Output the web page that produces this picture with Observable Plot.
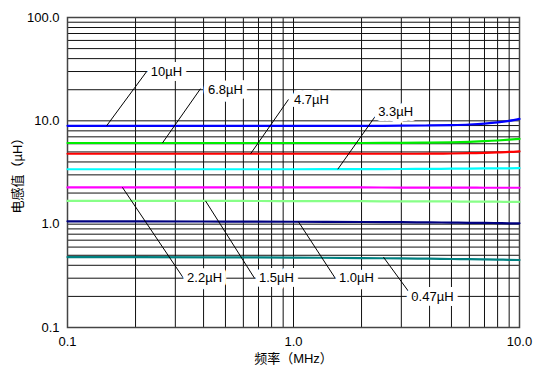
<!DOCTYPE html>
<html>
<head>
<meta charset="utf-8">
<script src="https://cdn.jsdelivr.net/npm/d3@7"></script>
<script src="https://cdn.jsdelivr.net/npm/@observablehq/plot@0.6"></script>
<style>
  html, body { margin: 0; padding: 0; background: #fff; }
</style>
</head>
<body>
<div id="chart"></div>
<script>
// Frequency points (MHz)
const freqs = [0.1, 0.2, 0.5, 1, 2, 3, 4, 5, 6, 7, 8, 9, 10];

// Inductance series (µH) at each frequency
const s10   = [8.95, 8.95, 8.95, 8.95, 8.95, 8.97, 9.02, 9.1, 9.22, 9.4, 9.65, 10.0, 10.45];
const s6_8  = [6.1, 6.1, 6.1, 6.1, 6.1, 6.12, 6.15, 6.2, 6.27, 6.35, 6.45, 6.57, 6.7];
const s4_7  = [4.8, 4.8, 4.8, 4.8, 4.8, 4.8, 4.81, 4.83, 4.86, 4.9, 4.95, 5.0, 5.07];
const s3_3  = [3.4, 3.4, 3.4, 3.4, 3.41, 3.42, 3.43, 3.44, 3.45, 3.46, 3.47, 3.47, 3.48];
const s2_2  = [2.27, 2.27, 2.27, 2.27, 2.27, 2.26, 2.26, 2.26, 2.26, 2.25, 2.25, 2.25, 2.25];
const s1_5  = [1.68, 1.68, 1.68, 1.67, 1.67, 1.66, 1.66, 1.66, 1.65, 1.65, 1.65, 1.64, 1.64];
const s1_0  = [1.065, 1.065, 1.06, 1.055, 1.05, 1.045, 1.04, 1.035, 1.03, 1.03, 1.025, 1.02, 1.02];
const s0_47 = [0.48, 0.48, 0.478, 0.475, 0.47, 0.466, 0.463, 0.46, 0.458, 0.456, 0.454, 0.452, 0.45];

const seriesNames  = ["10µH", "6.8µH", "4.7µH", "3.3µH", "2.2µH", "1.5µH", "1.0µH", "0.47µH"];
const seriesValues = [s10, s6_8, s4_7, s3_3, s2_2, s1_5, s1_0, s0_47];
const seriesColors = ["#0000ff", "#00ee00", "#ff0000", "#00ffff", "#ff00ff", "#88ff88", "#000080", "#008080"];

// Axis ticks and grid
const xTicks = [0.1, 1, 10];
const yTicks = [0.1, 1, 10, 100];
const xGrid = [0.2, 0.3, 0.4, 0.5, 0.6, 0.7, 0.8, 0.9, 1, 2, 3, 4, 5, 6, 7, 8, 9];
const yGrid = [0.2, 0.3, 0.4, 0.5, 0.6, 0.7, 0.8, 0.9, 1, 2, 3, 4, 5, 6, 7, 8, 9,
               10, 20, 30, 40, 50, 60, 70, 80, 90];

// Annotation labels (data coordinates) and leader lines
const labelText = ["10µH", "6.8µH", "4.7µH", "3.3µH", "2.2µH", "1.5µH", "1.0µH", "0.47µH"];
const labelX    = [0.274, 0.50, 1.2, 2.83, 0.404, 0.84, 1.9, 4.12];
const labelY    = [30, 20, 15.8, 12.1, 0.3, 0.3, 0.3, 0.2];
const leadX1    = [0.224, 0.388, 0.95, 2.33, 0.175, 0.408, 1.05, 2.5];
const leadY1    = [30, 20.5, 16.1, 11.5, 2.27, 1.68, 1.06, 0.48];
const leadX2    = [0.149, 0.263, 0.646, 1.57, 0.326, 0.672, 1.53, 3.26];
const leadY2    = [8.95, 6.1, 4.8, 3.4, 0.3, 0.3, 0.3, 0.217];

const curveData = [];
seriesNames.forEach((name, i) => {
  freqs.forEach((f, j) => curveData.push({series: name, f, L: seriesValues[i][j]}));
});
const labels = labelText.map((t, i) => ({t, x: labelX[i], y: labelY[i]}));
const leaders = labelText.map((t, i) => ({x1: leadX1[i], y1: leadY1[i], x2: leadX2[i], y2: leadY2[i]}));

const chart = Plot.plot({
  width: 536,
  height: 369,
  marginLeft: 67,
  marginRight: 17,
  marginTop: 17,
  marginBottom: 42,
  style: {fontFamily: "'Liberation Sans', Arial, 'Noto Sans CJK SC', sans-serif", fontSize: "13px", background: "#fff", color: "#000"},
  x: {type: "log", domain: [0.1, 10]},
  y: {type: "log", domain: [0.1, 100]},
  color: {domain: seriesNames, range: seriesColors},
  marks: [
    Plot.ruleX(xGrid, {stroke: "#111", strokeWidth: 1}),
    Plot.ruleY(yGrid, {stroke: "#111", strokeWidth: 1}),
    Plot.frame({stroke: "#444", strokeWidth: 1.5}),
    Plot.line(curveData, {x: "f", y: "L", z: "series", stroke: "series", strokeWidth: 2.2, curve: "monotone-x"}),
    Plot.link(leaders, {x1: "x1", y1: "y1", x2: "x2", y2: "y2", stroke: "#000", strokeWidth: 1}),
    Plot.text(labels, {x: "x", y: "y", text: "t", fill: "#000", stroke: "#fff", strokeWidth: 10,
                       strokeLinejoin: "round", paintOrder: "stroke", fontSize: 13, fontWeight: "normal"}),
    Plot.axisX({ticks: xTicks, tickFormat: d => d.toFixed(1), tickSize: 0, tickPadding: 9,
                label: "频率（MHz）", labelAnchor: "center", labelOffset: 35, labelArrow: false}),
    Plot.axisY({ticks: yTicks, tickFormat: d => d.toFixed(1), tickSize: 0, tickPadding: 8,
                label: "电感值（µH）", labelAnchor: "center", labelOffset: 55, labelArrow: false})
  ]
});
document.getElementById("chart").appendChild(chart);
</script>
</body>
</html>
